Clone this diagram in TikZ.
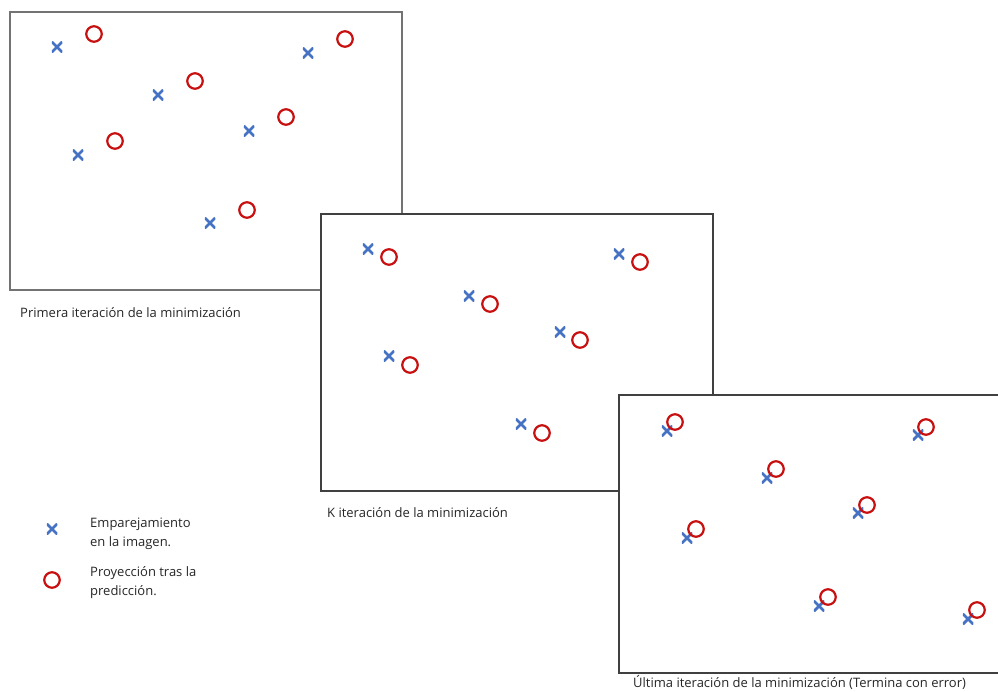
\documentclass[tikz,border=0pt]{standalone}
\usepackage{fontspec}
\setmainfont{Open Sans}
\begin{document}
\begin{tikzpicture}[x=1pt,y=-1pt,
  mx/.style={draw=none,inner sep=0pt,minimum size=10.5pt,
    path picture={\draw[line width=2.8pt,color=mblue]
      (path picture bounding box.south west) -- (path picture bounding box.north east)
      (path picture bounding box.north west) -- (path picture bounding box.south east);}},
  mo/.style={circle,draw=mred,line width=2.2pt,minimum size=15.5pt,inner sep=0pt},
  frameA/.style={draw=black!55,line width=1.8pt,fill=white},
  frameB/.style={draw=black!75,line width=1.2pt,fill=white},
  lbl/.style={anchor=base west,inner sep=0pt,font=\fontsize{13}{19}\selectfont,text=black!85}]
\definecolor{mblue}{RGB}{70,114,196}
\definecolor{mred}{RGB}{200,16,16}
\useasboundingbox (0,0) rectangle (998,691);
\clip (0,0) rectangle (998,691);
% frame 1
\draw[frameA] (10,12) rectangle (402,290);
\node[mx] (a1) at (57,47) {};   \node[mo] (b1) at (94,34) {};
\node[mx] (a2) at (158,95) {};  \node[mo] (b2) at (195,81) {};
\node[mx] (a3) at (78,155) {};  \node[mo] (b3) at (115,141) {};
\node[mx] (a4) at (249,131) {}; \node[mo] (b4) at (286,117) {};
\node[mx] (a5) at (210,223) {}; \node[mo] (b5) at (247,210) {};
\node[mx] (a6) at (308,53) {};  \node[mo] (b6) at (345,39) {};
\node[lbl] (t1) at (20,317) {Primera iteración de la minimización};
% frame 2
\draw[frameB] (321,214) rectangle (713,491);
\node[mx] (c1) at (368,249) {}; \node[mo] (d1) at (389,257) {};
\node[mx] (c2) at (469,296) {}; \node[mo] (d2) at (490,304) {};
\node[mx] (c3) at (389,356) {}; \node[mo] (d3) at (410,365) {};
\node[mx] (c4) at (560,332) {}; \node[mo] (d4) at (580,340) {};
\node[mx] (c5) at (521,424) {}; \node[mo] (d5) at (542,433) {};
\node[mx] (c6) at (619,254) {}; \node[mo] (d6) at (640,262) {};
\node[lbl] (t2) at (327,517) {K iteración de la minimización};
% frame 3
\draw[frameB] (619,395) rectangle (1010,673);
\node[mx] (e1) at (667,431) {}; \node[mo] (f1) at (675,422) {};
\node[mx] (e2) at (767,478) {}; \node[mo] (f2) at (776,469) {};
\node[mx] (e3) at (687,538) {}; \node[mo] (f3) at (696,529) {};
\node[mx] (e4) at (858,513) {}; \node[mo] (f4) at (867,505) {};
\node[mx] (e5) at (819,606) {}; \node[mo] (f5) at (828,597) {};
\node[mx] (e6) at (918,435) {}; \node[mo] (f6) at (926,427) {};
\node[mx] (e7) at (968,619) {}; \node[mo] (f7) at (977,610) {};
\node[lbl] (t3) at (633,687) {Última iteración de la minimización (Termina con error)};
% legend
\node[mx] (lx) at (52,529) {};
\node[mo] (lo) at (52,580) {};
\node[lbl,align=left] (l1) at (90,546) {Emparejamiento\\en la imagen.};
\node[lbl,align=left] (l2) at (90,595) {Proyección tras la\\predicción.};
\end{tikzpicture}
\end{document}
